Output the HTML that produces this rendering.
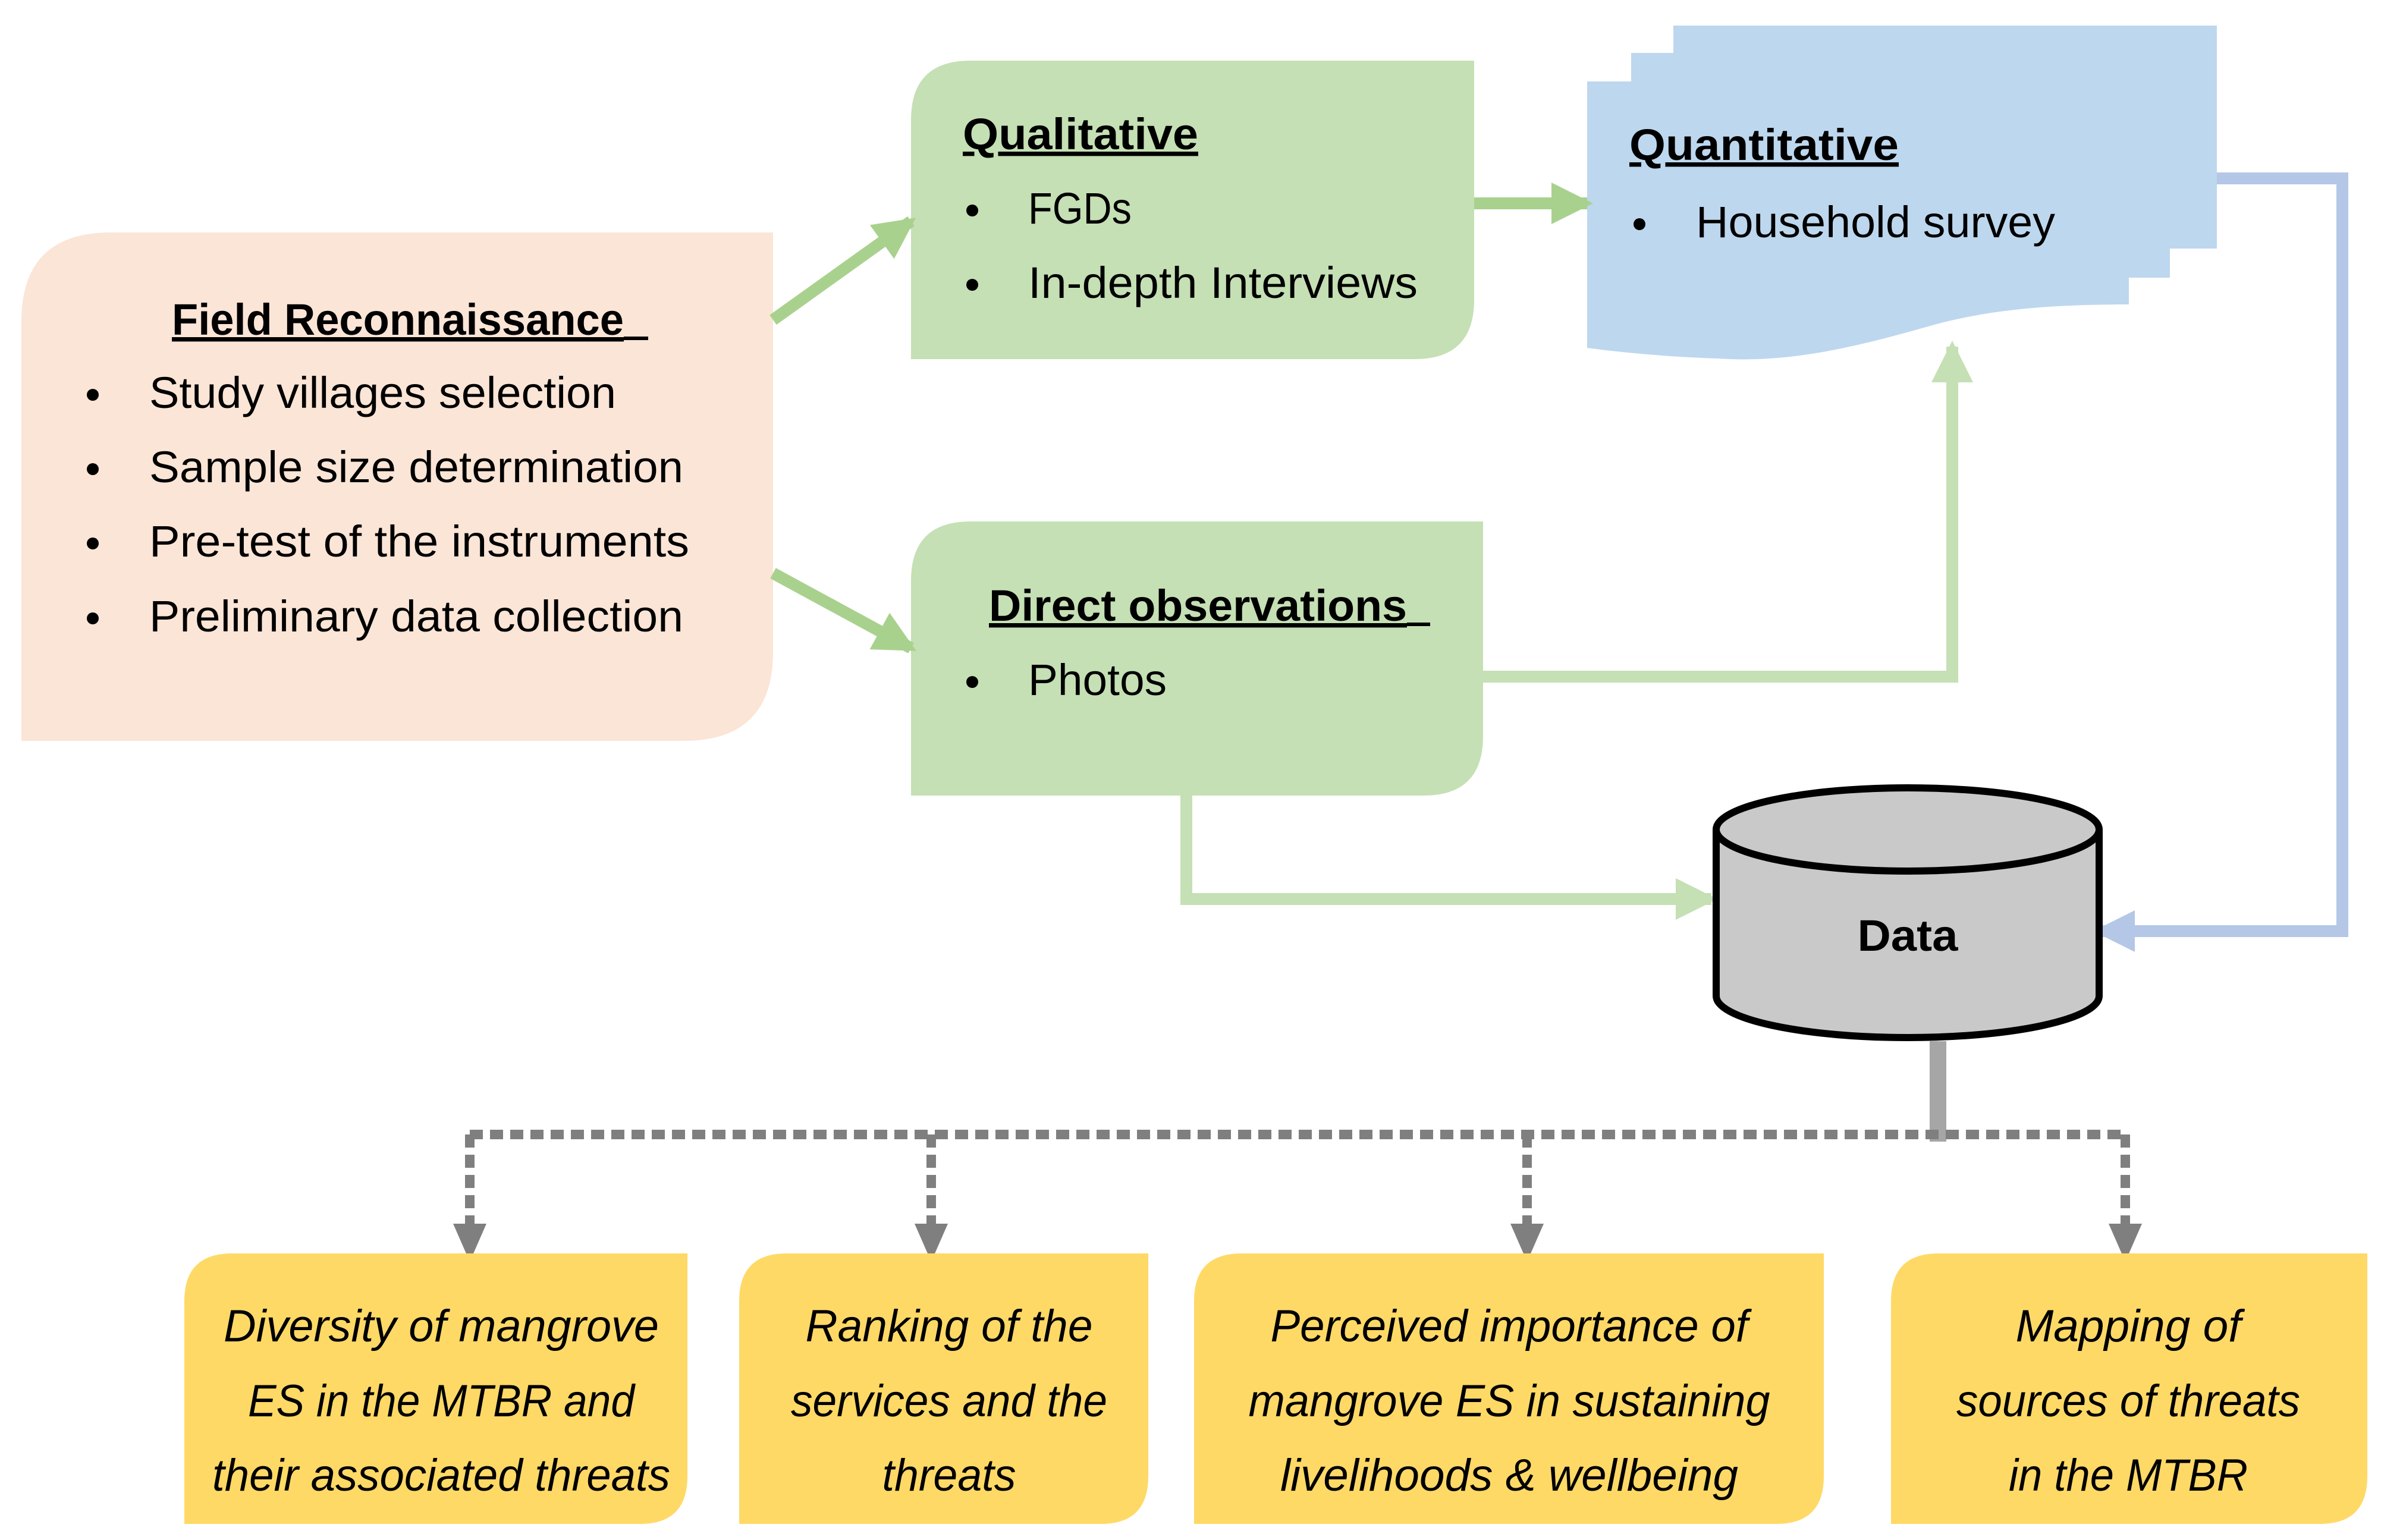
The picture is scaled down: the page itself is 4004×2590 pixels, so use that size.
<!DOCTYPE html>
<html><head><meta charset="utf-8"><style>
html,body{margin:0;padding:0;background:#fff;}
svg{display:block;}
text{font-family:"Liberation Sans",sans-serif;fill:#000;}
.t{font-weight:bold;font-size:74px;text-decoration:underline;}
.b{font-size:74px;}
.i{font-style:italic;font-size:76px;}
</style></head><body>
<svg width="4004" height="2590" viewBox="0 0 4004 2590" xmlns="http://www.w3.org/2000/svg">
<defs>
<marker id="ag" markerUnits="userSpaceOnUse" markerWidth="80" markerHeight="80" refX="60" refY="35" orient="auto"><path d="M0,0 L70,35 L0,70 Z" fill="#a9d18e"/></marker>
<marker id="al" markerUnits="userSpaceOnUse" markerWidth="80" markerHeight="80" refX="60" refY="35" orient="auto"><path d="M0,0 L70,35 L0,70 Z" fill="#c5e0b4"/></marker>
<marker id="ab" markerUnits="userSpaceOnUse" markerWidth="80" markerHeight="80" refX="60" refY="35" orient="auto"><path d="M0,0 L70,35 L0,70 Z" fill="#b4c7e7"/></marker>
<marker id="ay" markerUnits="userSpaceOnUse" markerWidth="80" markerHeight="80" refX="60" refY="28" orient="auto"><path d="M0,0 L64,28 L0,56 Z" fill="#7f7f7f"/></marker>
</defs>

<!-- Field Reconnaissance -->
<path d="M186,391 H1300 V1096 Q1300,1246 1150,1246 H36 V541 Q36,391 186,391 Z" fill="#fbe5d6"/>
<text class="t" x="289" y="563" textLength="760" lengthAdjust="spacingAndGlyphs">Field Reconnaissance</text>
<rect x="1049" y="566" width="41" height="6" fill="#000"/>
<circle cx="156" cy="664" r="10"/><text class="b" x="251" y="686" textLength="785" lengthAdjust="spacingAndGlyphs">Study villages selection</text>
<circle cx="156" cy="789" r="10"/><text class="b" x="251" y="811" textLength="898" lengthAdjust="spacingAndGlyphs">Sample size determination</text>
<circle cx="156" cy="914" r="10"/><text class="b" x="251" y="936" textLength="908" lengthAdjust="spacingAndGlyphs">Pre-test of the instruments</text>
<circle cx="156" cy="1040" r="10"/><text class="b" x="251" y="1062" textLength="898" lengthAdjust="spacingAndGlyphs">Preliminary data collection</text>

<!-- Qualitative -->
<path d="M1632,102 H2479 V504 Q2479,604 2379,604 H1532 V202 Q1532,102 1632,102 Z" fill="#c5e0b4"/>
<text class="t" x="1619" y="251" textLength="396" lengthAdjust="spacingAndGlyphs">Qualitative</text>
<circle cx="1635" cy="354" r="10"/><text class="b" x="1729" y="376" textLength="174" lengthAdjust="spacingAndGlyphs">FGDs</text>
<circle cx="1635" cy="479" r="10"/><text class="b" x="1729" y="501" textLength="655" lengthAdjust="spacingAndGlyphs">In-depth Interviews</text>

<!-- Quantitative -->
<path d="M2814,43 H3728 V418 H3649 V467 H3580 V512 C3450,512 3350,520 3253,546 C3100,590 3000,610 2891,603 C2800,600 2720,592 2669,585 V137 H2743 V89 H2814 Z" fill="#bdd7ee"/>
<text class="t" x="2740" y="269" textLength="453" lengthAdjust="spacingAndGlyphs">Quantitative</text>
<circle cx="2757" cy="377" r="10"/><text class="b" x="2852" y="399" textLength="604" lengthAdjust="spacingAndGlyphs">Household survey</text>

<!-- Direct observations -->
<path d="M1632,877 H2494 V1238 Q2494,1338 2394,1338 H1532 V977 Q1532,877 1632,877 Z" fill="#c5e0b4"/>
<text class="t" x="1663" y="1044" textLength="703" lengthAdjust="spacingAndGlyphs">Direct observations</text>
<rect x="2366" y="1047" width="39" height="6" fill="#000"/>
<circle cx="1635" cy="1147" r="10"/><text class="b" x="1729" y="1169" textLength="233" lengthAdjust="spacingAndGlyphs">Photos</text>

<!-- connectors -->
<line x1="1300" y1="538" x2="1532" y2="372" stroke="#a9d18e" stroke-width="20" marker-end="url(#ag)"/>
<line x1="1300" y1="964" x2="1532" y2="1090" stroke="#a9d18e" stroke-width="20" marker-end="url(#ag)"/>
<line x1="2479" y1="342" x2="2669" y2="342" stroke="#a9d18e" stroke-width="20" marker-end="url(#ag)"/>
<polyline points="2494,1138 3283,1138 3283,583" fill="none" stroke="#c5e0b4" stroke-width="20" marker-end="url(#al)"/>
<polyline points="1995,1338 1995,1512 2878,1512" fill="none" stroke="#c5e0b4" stroke-width="20" marker-end="url(#al)"/>
<polyline points="3728,300 3939,300 3939,1566 3530,1566" fill="none" stroke="#b4c7e7" stroke-width="20" marker-end="url(#ab)"/>

<!-- Data cylinder -->
<path d="M2886,1395 V1675 A322,70 0 0 0 3530,1675 V1395" fill="#c9c9c9" stroke="#000" stroke-width="12"/>
<ellipse cx="3208" cy="1395" rx="322" ry="70" fill="#c9c9c9" stroke="#000" stroke-width="12"/>
<text x="3208" y="1599" text-anchor="middle" font-weight="bold" font-size="74" textLength="169" lengthAdjust="spacingAndGlyphs">Data</text>

<line x1="3259" y1="1751" x2="3259" y2="1920" stroke="#a6a6a6" stroke-width="28"/>
<g stroke="#7f7f7f" stroke-width="16" stroke-dasharray="22 12" fill="none">
<line x1="790" y1="1908" x2="3574" y2="1908"/>
<line x1="790" y1="1908" x2="790" y2="2118" marker-end="url(#ay)"/>
<line x1="1566" y1="1908" x2="1566" y2="2118" marker-end="url(#ay)"/>
<line x1="2568" y1="1908" x2="2568" y2="2118" marker-end="url(#ay)"/>
<line x1="3574" y1="1908" x2="3574" y2="2118" marker-end="url(#ay)"/>
</g>

<!-- bottom boxes -->
<path d="M390,2108 H1156 V2483 Q1156,2563 1076,2563 H310 V2188 Q310,2108 390,2108 Z" fill="#ffd966"/>
<path d="M1323,2108 H1931 V2483 Q1931,2563 1851,2563 H1243 V2188 Q1243,2108 1323,2108 Z" fill="#ffd966"/>
<path d="M2088,2108 H3067 V2483 Q3067,2563 2987,2563 H2008 V2188 Q2008,2108 2088,2108 Z" fill="#ffd966"/>
<path d="M3260,2108 H3981 V2483 Q3981,2563 3901,2563 H3180 V2188 Q3180,2108 3260,2108 Z" fill="#ffd966"/>
<g text-anchor="middle">
<text class="i" x="742" y="2256" textLength="732" lengthAdjust="spacingAndGlyphs">Diversity of mangrove</text>
<text class="i" x="742" y="2382" textLength="650" lengthAdjust="spacingAndGlyphs">ES in the MTBR and</text>
<text class="i" x="742" y="2507" textLength="770" lengthAdjust="spacingAndGlyphs">their associated threats</text>
<text class="i" x="1596" y="2256" textLength="483" lengthAdjust="spacingAndGlyphs">Ranking of the</text>
<text class="i" x="1596" y="2382" textLength="532" lengthAdjust="spacingAndGlyphs">services and the</text>
<text class="i" x="1596" y="2507" textLength="225" lengthAdjust="spacingAndGlyphs">threats</text>
<text class="i" x="2538" y="2256" textLength="803" lengthAdjust="spacingAndGlyphs">Perceived importance of</text>
<text class="i" x="2538" y="2382" textLength="877" lengthAdjust="spacingAndGlyphs">mangrove ES in sustaining</text>
<text class="i" x="2538" y="2507" textLength="770" lengthAdjust="spacingAndGlyphs">livelihoods &amp; wellbeing</text>
<text class="i" x="3579" y="2256" textLength="379" lengthAdjust="spacingAndGlyphs">Mapping of</text>
<text class="i" x="3579" y="2382" textLength="578" lengthAdjust="spacingAndGlyphs">sources of threats</text>
<text class="i" x="3579" y="2507" textLength="402" lengthAdjust="spacingAndGlyphs">in the MTBR</text>
</g>
</svg>
</body></html>
